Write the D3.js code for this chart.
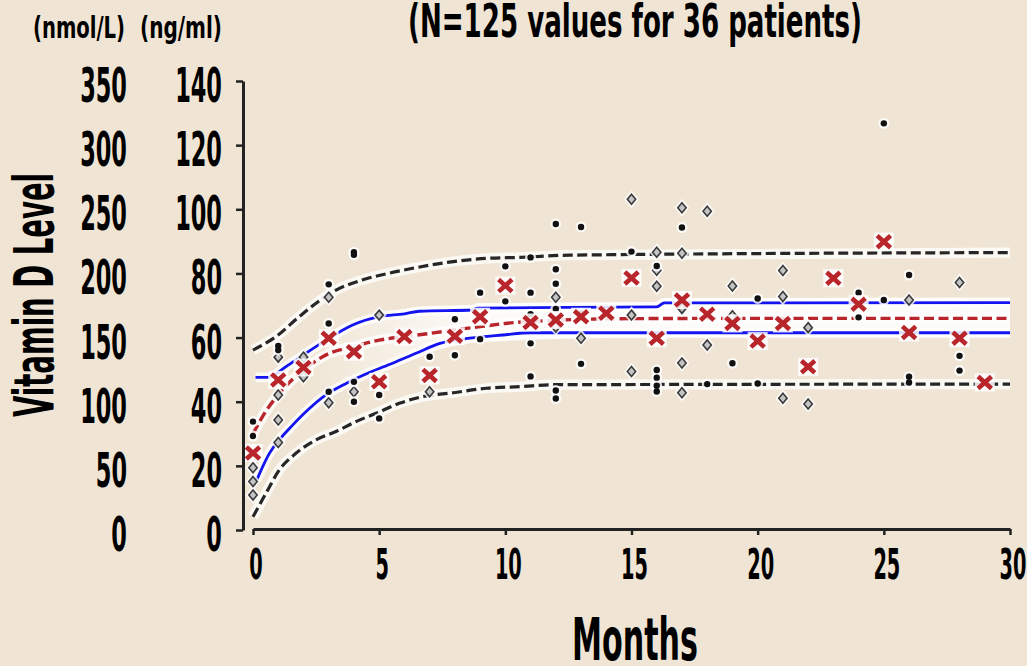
<!DOCTYPE html>
<html>
<head>
<meta charset="utf-8">
<script src="https://cdn.jsdelivr.net/npm/d3@7"></script>
<style>
  html, body { margin: 0; padding: 0; background: #f0e5d4; }
  svg { display: block; }
  text { font-family: "DejaVu Sans Condensed", "DejaVu Sans", sans-serif; font-weight: bold; fill: #000; }
</style>
</head>
<body>
<svg id="chart" width="1027" height="666"></svg>
<script>
// ---------------- DATA ----------------
const titleText = "(N=125 values for 36 patients)";
const xLabel = "Months";
const yLabel = "Vitamin D Level";
const unitNmol = "(nmol/L)";
const unitNg = "(ng/ml)";

const xTicks = [0, 5, 10, 15, 20, 25, 30];
const yTicksNg = [0, 20, 40, 60, 80, 100, 120, 140];
const yTicksNmol = [0, 50, 100, 150, 200, 250, 300, 350];

// Mean values (red X) per month
const meanMonths = [0, 1, 2, 3, 4, 5, 6, 7, 8, 9, 10, 11, 12, 13, 14, 15, 16, 17, 18, 19, 20, 21, 22, 23, 24, 25, 26, 28, 29];
const meanValues = [24, 46.8, 50.7, 59.8, 55.6, 46.2, 60.3, 48.2, 60.4, 66.5, 76.2, 64.7, 65.5, 66.5, 67.6, 78.6, 59.8, 71.7, 67.3, 64.4, 58.9, 64.4, 50.9, 78.5, 70.4, 89.9, 61.6, 59.8, 46.0];

// Individual measurements: black dots [month, ng/ml]
const dotPoints = [
  [0, 33.8], [0, 29.3],
  [1, 57.4], [1, 56.1],
  [3, 76.6], [3, 64.4], [3, 43.1],
  [4, 86.6], [4, 85.8], [4, 56.1], [4, 46.2], [4, 40.0],
  [5, 42.1], [5, 34.8],
  [6, 60.5],
  [7, 54.0],
  [8, 65.7], [8, 54.5],
  [9, 74.0], [9, 59.5],
  [10, 82.2], [10, 71.3],
  [11, 85.0], [11, 74.0], [11, 67.3], [11, 58.2], [11, 47.9],
  [12, 95.4], [12, 81.3], [12, 76.8], [12, 68.9], [12, 43.5], [12, 41.0],
  [13, 94.5], [13, 67.5], [13, 51.8],
  [15, 86.8],
  [16, 82.3], [16, 49.9], [16, 47.5], [16, 45.0], [16, 43.2],
  [17, 94.3],
  [18, 45.5],
  [19, 52.0],
  [20, 72.2], [20, 45.7],
  [24, 74.0], [24, 66.3],
  [25, 126.8], [25, 71.7],
  [26, 79.5], [26, 47.8], [26, 46.0],
  [28, 54.3], [28, 49.7]
];

// Individual measurements: grey diamonds [month, ng/ml]
const diamondPoints = [
  [0, 19.4], [0, 15.1], [0, 10.9],
  [1, 53.9], [1, 42.1], [1, 34.3], [1, 27.3],
  [2, 53.9], [2, 47.8],
  [3, 72.6], [3, 39.7],
  [4, 43.1],
  [5, 67.0],
  [7, 43.1],
  [12, 72.6], [12, 63.3],
  [13, 59.8],
  [15, 103.1], [15, 67.0], [15, 49.4],
  [16, 86.6], [16, 81.0], [16, 76.0],
  [17, 100.5], [17, 86.3], [17, 69.1], [17, 52.1], [17, 42.8],
  [18, 99.4], [18, 57.7],
  [19, 76.1], [19, 66.8],
  [21, 80.9], [21, 72.8], [21, 41.1],
  [22, 63.1], [22, 39.3],
  [26, 71.7],
  [28, 77.2]
];

// Fitted curve (red dashed)
const fitCurve = [[0, 30], [0.5, 36.9], [1, 42.2], [2, 49.9], [3, 55.0], [4, 57.2], [5, 59.2], [6, 60.3], [7, 61.3], [8, 62.4], [9, 63.4], [10, 64.4], [12, 65.4], [15, 65.9], [20, 66.0], [30, 66.0]];
// Confidence band (blue)
const ciUpper = [[0.1, 47.6], [0.6, 47.6], [1.3, 50.9], [2, 54.6], [2.9, 59.2], [3.95, 63.9], [5, 66.5], [6, 67.4], [6.6, 68.2], [8.7, 68.6], [8.9, 69.2], [16, 69.6], [16.3, 70.8], [30, 70.9]];
const ciLower = [[0.15, 15.6], [0.38, 19.7], [0.65, 23.9], [1.04, 28.1], [1.57, 32.7], [2.17, 37.4], [2.89, 42.1], [3.69, 45.7], [4.61, 49.1], [5.53, 52.0], [6.46, 55.1], [7.41, 58.2], [8.6, 59.8], [9.9, 60.8], [11, 61.5], [30, 61.5]];
// Prediction band (black dashed)
const predUpper = [[0, 56.1], [0.91, 60.3], [1.83, 66.5], [2.5, 70.7], [3.29, 74.8], [4.35, 78.0], [5.4, 80.1], [6.33, 81.6], [7.94, 83.7], [9.26, 84.7], [10.58, 85.0], [12.56, 85.7], [30, 86.5]];
const predLower = [[0, 4.1], [0.51, 11.4], [1.04, 18.7], [1.7, 23.9], [2.5, 28.1], [3.29, 30.7], [4.08, 33.8], [4.88, 36.4], [5.8, 39.5], [6.73, 41.6], [7.94, 42.8], [9.26, 44.2], [10.58, 44.7], [11.9, 45.3], [30, 45.5]];

// ---------------- DRAW ----------------
const svg = d3.select("#chart");
const x = d3.scaleLinear().domain([0, 30]).range([253, 1010]);
const y = d3.scaleLinear().domain([0, 140]).range([530, 81]);

const halo = "#ffffff";

// horizontal fade for the whitish band between the blue curves
const defs = svg.append("defs");
const grad = defs.append("linearGradient").attr("id", "bandFade")
  .attr("gradientUnits", "userSpaceOnUse")
  .attr("x1", x(2)).attr("x2", x(9)).attr("y1", 0).attr("y2", 0);
grad.append("stop").attr("offset", 0).attr("stop-color", "#fff").attr("stop-opacity", 0);
grad.append("stop").attr("offset", 1).attr("stop-color", "#fff").attr("stop-opacity", 0.85);

const loInterp = t => {
  for (let i = 0; i < ciLower.length - 1; i++) {
    const a = ciLower[i], b = ciLower[i + 1];
    if (t >= a[0] && t <= b[0]) return a[1] + (b[1] - a[1]) * (t - a[0]) / (b[0] - a[0]);
  }
  return t < ciLower[0][0] ? ciLower[0][1] : ciLower[ciLower.length - 1][1];
};
svg.append("path")
  .datum(ciUpper.filter(d => d[0] >= 2))
  .attr("fill", "url(#bandFade)")
  .attr("d", d3.area().x(d => x(d[0])).y0(d => y(loInterp(d[0]) - 1.5)).y1(d => y(d[1] + 1.5)).curve(d3.curveMonotoneX));

const line = d3.line().x(d => x(d[0])).y(d => y(d[1])).curve(d3.curveMonotoneX);

function drawLine(data, color, width, dash) {
  svg.append("path").datum(data).attr("fill", "none")
    .attr("stroke", halo).attr("stroke-opacity", 0.75).attr("stroke-width", width + 7)
    .attr("stroke-linejoin", "round").attr("d", line);
  svg.append("path").datum(data).attr("fill", "none")
    .attr("stroke", color).attr("stroke-width", width)
    .attr("stroke-dasharray", dash || null)
    .attr("d", line);
}

drawLine(predUpper, "#262626", 3.2, "10,4.5");
drawLine(predLower, "#262626", 3.2, "10,4.5");
drawLine(ciUpper, "#1414f0", 2.8, null);
drawLine(ciLower, "#1414f0", 2.8, null);
drawLine(fitCurve, "#b8262c", 3.4, "10,4.5");

// diamonds
const diamondPath = "M0,-5L4.2,0L0,5L-4.2,0Z";
const dg = svg.append("g");
dg.selectAll("path.h").data(diamondPoints).join("path").attr("class", "h")
  .attr("transform", d => `translate(${x(d[0])},${y(d[1])})`)
  .attr("d", diamondPath).attr("fill", halo).attr("stroke", halo).attr("stroke-width", 5).attr("opacity", 0.8);
dg.selectAll("path.m").data(diamondPoints).join("path").attr("class", "m")
  .attr("transform", d => `translate(${x(d[0])},${y(d[1])})`)
  .attr("d", diamondPath).attr("fill", "#c4c4c4").attr("stroke", "#3a3a3a").attr("stroke-width", 1.6);

// black dots
const cg = svg.append("g");
cg.selectAll("circle.h").data(dotPoints).join("circle").attr("class", "h")
  .attr("cx", d => x(d[0])).attr("cy", d => y(d[1])).attr("r", 5.5)
  .attr("fill", halo).attr("opacity", 0.8);
cg.selectAll("circle.m").data(dotPoints).join("circle").attr("class", "m")
  .attr("cx", d => x(d[0])).attr("cy", d => y(d[1])).attr("r", 3.2)
  .attr("fill", "#111");

// red X means
const means = meanMonths.map((m, i) => [m, meanValues[i]]);
const mg = svg.append("g");
mg.selectAll("rect").data(means).join("rect")
  .attr("x", d => x(d[0]) - 10).attr("y", d => y(d[1]) - 9)
  .attr("width", 20).attr("height", 18).attr("fill", halo).attr("opacity", 0.85);
mg.selectAll("path").data(means).join("path")
  .attr("transform", d => `translate(${x(d[0])},${y(d[1])})`)
  .attr("d", "M-5,-4.5L5,4.5M5,-4.5L-5,4.5")
  .attr("stroke", "#b8262c").attr("stroke-width", 4.6).attr("stroke-linecap", "square").attr("fill", "none");

// axes
const xAxis = d3.axisBottom(x).tickValues(xTicks).tickSize(6).tickSizeOuter(0).tickFormat("");
const gx = svg.append("g").attr("transform", "translate(0,529)").call(xAxis);
gx.select(".domain").attr("stroke", "#222").attr("stroke-width", 3);
gx.selectAll(".tick line").attr("stroke", "#222").attr("stroke-width", 2.5);

const yAxis = d3.axisLeft(y).tickValues(yTicksNg).tickSize(7).tickSizeOuter(0).tickFormat("");
const gy = svg.append("g").attr("transform", "translate(243,0)").call(yAxis);
gy.select(".domain").attr("stroke", "#222").attr("stroke-width", 3);
gy.selectAll(".tick line").attr("stroke", "#222").attr("stroke-width", 2.5);

// tick labels
function condText(txt, tx, ty, size, sx, anchor) {
  return svg.append("text")
    .attr("transform", `translate(${tx},${ty}) scale(${sx},1)`)
    .attr("font-size", size).attr("text-anchor", anchor).text(txt);
}
xTicks.forEach(v => condText(String(v), x(v) + 3, 579, 43, 0.5, "middle"));
yTicksNg.forEach(v => condText(String(v), 222, y(v) + 21, 48, 0.52, "end"));
yTicksNmol.forEach(v => condText(String(v), 127, y(v / 2.5) + 21, 48, 0.52, "end"));

// labels with fitted lengths
function fitText(txt, tx, ty, size, len, anchor, rot) {
  const t = svg.append("text")
    .attr("x", tx).attr("y", ty).attr("font-size", size)
    .attr("text-anchor", anchor)
    .attr("textLength", len).attr("lengthAdjust", "spacingAndGlyphs")
    .text(txt);
  if (rot) t.attr("transform", `rotate(${rot},${tx},${ty})`);
  return t;
}
fitText(titleText, 635, 37, 47, 454, "middle");
fitText(unitNmol, 33, 38, 30, 92, "start");
fitText(unitNg, 140, 38, 30, 82, "start");
fitText(xLabel, 635, 660, 59, 126, "middle");
fitText(yLabel, 53, 295, 55, 244, "middle", -90);
</script>
</body>
</html>
